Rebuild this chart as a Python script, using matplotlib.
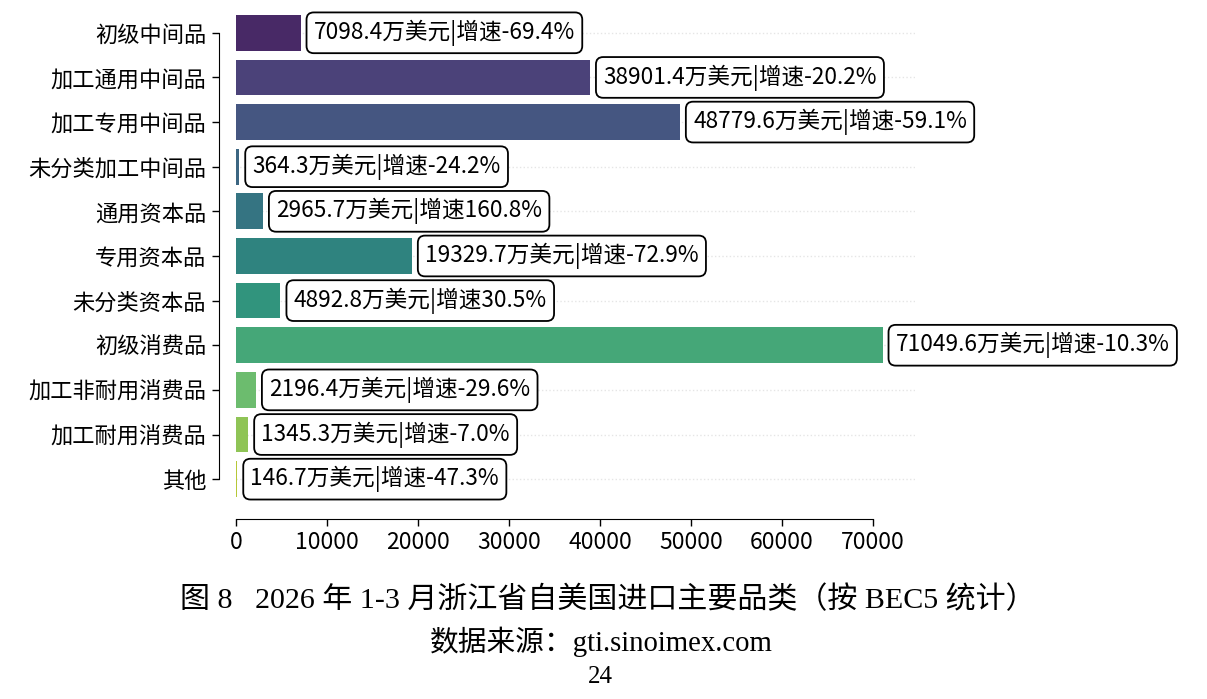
import matplotlib
matplotlib.use("Agg")
import matplotlib.pyplot as plt
import seaborn as sns
import numpy as np

categories = ["初级中间品", "加工通用中间品", "加工专用中间品", "未分类加工中间品", "通用资本品",
              "专用资本品", "未分类资本品", "初级消费品", "加工非耐用消费品", "加工耐用消费品", "其他"]
values = [7098.4, 38901.4, 48779.6, 364.3, 2965.7, 19329.7, 4892.8, 71049.6, 2196.4, 1345.3, 146.7]
growth = [-69.4, -20.2, -59.1, -24.2, 160.8, -72.9, 30.5, -10.3, -29.6, -7.0, -47.3]
xticks = [0, 10000, 20000, 30000, 40000, 50000, 60000, 70000]
caption = "图 8   2026 年 1-3 月浙江省自美国进口主要品类（按 BEC5 统计）"
source = "数据来源：gti.sinoimex.com"
page = "24"

plt.rcParams['font.family'] = ['Noto Sans CJK SC', 'DejaVu Sans']
plt.rcParams['axes.unicode_minus'] = False

fig = plt.figure(figsize=(12.07, 6.99), dpi=100)
ax = fig.add_axes([0.1955, 0.2826, 0.5625, 0.7024])

colors = [sns.desaturate(c, 0.75) for c in sns.color_palette("viridis", len(categories))]
y = np.arange(len(categories))
ax.barh(y, values, height=0.8, color=colors, zorder=2)

for s in ['top', 'right']:
    ax.spines[s].set_visible(False)
ax.spines['left'].set_position(('outward', 12.5))
ax.spines['bottom'].set_position(('outward', 12.5))

ax.set_ylim(len(categories) - 0.5, -0.5)
ax.set_xlim(0, max(values) * 1.05)
ax.set_yticks(y)
ax.set_yticklabels(categories)
ax.set_xticks(xticks)
ax.set_xticklabels([str(t) for t in xticks])
ax.tick_params(axis='both', length=5, width=1, color='black', pad=4, labelsize=16)
ax.tick_params(axis='x', labelsize=16.5)
ax.spines['left'].set_bounds(0, len(categories) - 1)
ax.spines['bottom'].set_bounds(xticks[0], xticks[-1])

ax.grid(axis='y', linestyle=':', color='#cccccc', alpha=0.5, linewidth=1, zorder=0)
ax.grid(axis='x', visible=False)

for yi, v, g in zip(y, values, growth):
    ax.annotate(f"{v:.1f}万美元|增速{g:.1f}%", xy=(v, yi), xytext=(9.5, 0),
                textcoords='offset points', va='center', ha='left', fontsize=16.3,
                bbox=dict(boxstyle='round,pad=0.32', fc='white', ec='black', lw=1.3), zorder=3)

serif = ['Liberation Serif', 'Noto Sans CJK SC']
fig.text(0.5036, 0.1416, caption, ha='center', va='center', fontsize=21.6, family=serif)
fig.text(0.4985, 0.0815, source, ha='center', va='center', fontsize=20.7, family=serif)
fig.text(0.497, 0.0315, page, ha='center', va='center', fontsize=18, family=serif)

fig.savefig("out.png", dpi=100, facecolor='white')
